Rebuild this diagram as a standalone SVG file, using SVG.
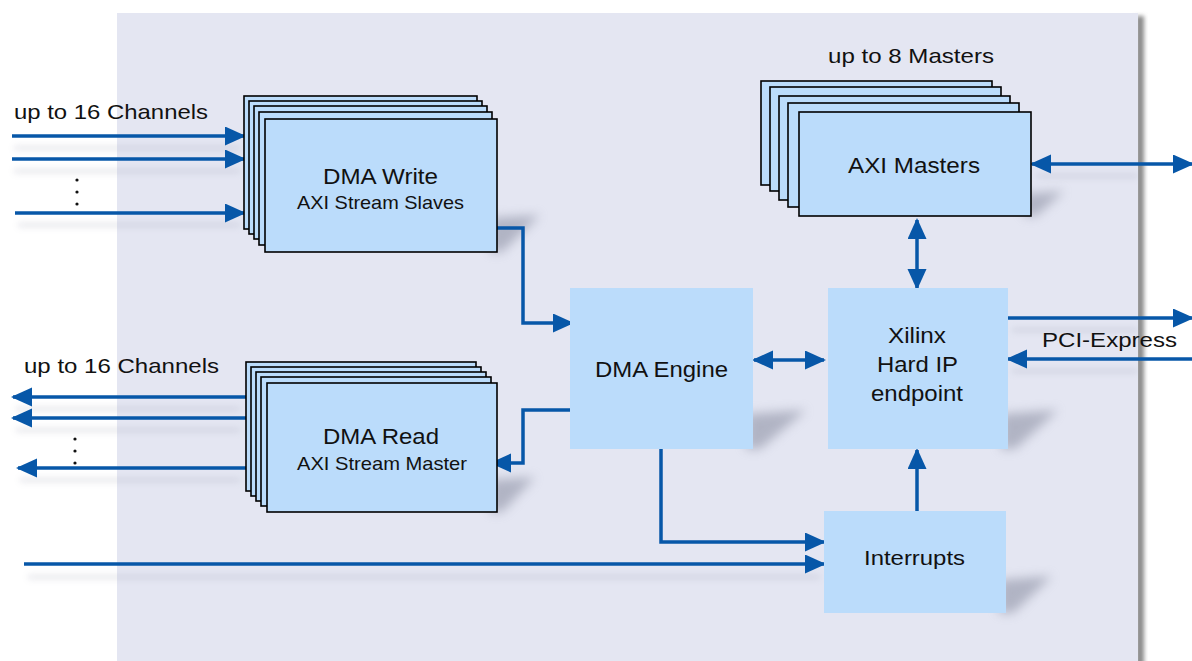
<svg xmlns="http://www.w3.org/2000/svg" width="1192" height="661" viewBox="0 0 1192 661">
<defs>
<style>
.card{fill:#bbdcfb;stroke:#000;stroke-width:1.6}
.box{fill:#bbdcfb}
.con{fill:none;stroke:#0757a8;stroke-width:3.5}
.sh{fill:#7e8296;opacity:0.5;filter:url(#blur)}
.lsh{fill:none;stroke:#9a9db0;stroke-width:5;opacity:0.22;filter:url(#blur2)}
text{font-family:"Liberation Sans",Arial,sans-serif;fill:#111;}
.lbl{font-size:21px}
.big{font-size:22px}
.sub{font-size:19px}
</style>
<filter id="blur" x="-100%" y="-100%" width="300%" height="300%"><feGaussianBlur stdDeviation="5.5"/></filter>
<filter id="blur2" x="-10%" y="-200%" width="120%" height="500%"><feGaussianBlur stdDeviation="3"/></filter>
<filter id="pblur" x="-50%" y="-10%" width="200%" height="120%"><feGaussianBlur stdDeviation="2"/></filter>
<marker id="ah" markerUnits="userSpaceOnUse" markerWidth="22" markerHeight="20" refX="19" refY="9.5" orient="auto-start-reverse" viewBox="0 0 22 20">
<path d="M0,0 L21,9.5 L0,19 z" fill="#0757a8"/>
</marker>
</defs>

<!-- background panel -->
<rect x="1136" y="16" width="8" height="660" fill="#8a8a8a" filter="url(#pblur)"/>
<rect x="117" y="13" width="1021" height="660" fill="#e4e6f2"/>

<!-- shadows -->
<g id="shadows">
<polygon class="sh" points="490,218 540,215 502,252 490,252"/>
<polygon class="sh" points="490,480 535,477 502,512 490,512"/>
<polygon class="sh" points="1024,194 1064,191 1036,216 1024,216"/>
<polygon class="sh" points="746,414 806,410 760,449 746,449"/>
<polygon class="sh" points="1001,414 1058,410 1015,449 1001,449"/>
<polygon class="sh" points="999,580 1052,576 1013,613 999,613"/>
<path class="lsh" d="M14,148 H240 M14,171 H240 M18,225 H240 M16,409 H240 M16,430 H240 M20,480 H240 M28,577 H820 M1036,176 H1138 M1012,330 H1138 M1012,371 H1138"/>
</g>

<g id="connectors">
<path class="con" d="M12,136 H244" marker-end="url(#ah)"/>
<path class="con" d="M12,159 H244" marker-end="url(#ah)"/>
<path class="con" d="M15,213 H244" marker-end="url(#ah)"/>
<path class="con" d="M246,397 H13" marker-end="url(#ah)"/>
<path class="con" d="M246,418 H13" marker-end="url(#ah)"/>
<path class="con" d="M246,468 H18" marker-end="url(#ah)"/>
<path class="con" d="M497,228 H523 V323 H572" marker-end="url(#ah)"/>
<path class="con" d="M570,410 H523 V463 H492" marker-end="url(#ah)"/>
<path class="con" d="M754,360 H824" marker-start="url(#ah)" marker-end="url(#ah)"/>
<path class="con" d="M917,220 V288" marker-start="url(#ah)" marker-end="url(#ah)"/>
<path class="con" d="M1032,164 H1192" marker-start="url(#ah)" marker-end="url(#ah)"/>
<path class="con" d="M1008,318 H1192" marker-end="url(#ah)"/>
<path class="con" d="M1192,359 H1008" marker-end="url(#ah)"/>
<path class="con" d="M661,449 V542 H824" marker-end="url(#ah)"/>
<path class="con" d="M24,564 H824" marker-end="url(#ah)"/>
<path class="con" d="M917,511 V450" marker-end="url(#ah)"/>
</g>

<!-- dots -->
<g id="dots" fill="#111">
<circle cx="77" cy="180" r="1.6"/><circle cx="77" cy="192" r="1.6"/><circle cx="77" cy="204" r="1.6"/>
<circle cx="75" cy="439" r="1.6"/><circle cx="75" cy="451" r="1.6"/><circle cx="75" cy="463" r="1.6"/>
</g>

<text class="lbl" x="14" y="119" textLength="194" lengthAdjust="spacingAndGlyphs">up to 16 Channels</text>
<text class="lbl" x="24" y="373" textLength="195" lengthAdjust="spacingAndGlyphs">up to 16 Channels</text>
<text class="lbl" x="828" y="63" textLength="166" lengthAdjust="spacingAndGlyphs">up to 8 Masters</text>
<text class="lbl" x="1042" y="347" textLength="135" lengthAdjust="spacingAndGlyphs">PCI-Express</text>

<g id="dma-write">
<rect class="card" x="244" y="96" width="233" height="133"/>
<rect class="card" x="249" y="101" width="233" height="133"/>
<rect class="card" x="254" y="106" width="233" height="133"/>
<rect class="card" x="259" y="112" width="233" height="133"/>
<rect class="card" x="265" y="119" width="232" height="133"/>
<text class="big" x="323" y="184" textLength="115" lengthAdjust="spacingAndGlyphs">DMA Write</text>
<text class="sub" x="297" y="209" textLength="167" lengthAdjust="spacingAndGlyphs">AXI Stream Slaves</text>
</g>

<g id="dma-read">
<rect class="card" x="246" y="362" width="230" height="129"/>
<rect class="card" x="251" y="367" width="230" height="129"/>
<rect class="card" x="256" y="372" width="230" height="129"/>
<rect class="card" x="261" y="377" width="230" height="129"/>
<rect class="card" x="267" y="383" width="230" height="129"/>
<text class="big" x="323" y="444" textLength="116" lengthAdjust="spacingAndGlyphs">DMA Read</text>
<text class="sub" x="297" y="470" textLength="170" lengthAdjust="spacingAndGlyphs">AXI Stream Master</text>
</g>

<g id="axi-masters">
<rect class="card" x="761" y="81" width="231" height="104"/>
<rect class="card" x="770" y="87" width="231" height="104"/>
<rect class="card" x="779" y="96" width="231" height="104"/>
<rect class="card" x="788" y="103" width="231" height="104"/>
<rect class="card" x="799" y="112" width="232" height="104"/>
<text class="big" x="848" y="173" textLength="132" lengthAdjust="spacingAndGlyphs">AXI Masters</text>
</g>

<g id="dma-engine">
<rect class="box" x="570" y="288" width="183" height="161"/>
<text class="big" x="595" y="377" textLength="133" lengthAdjust="spacingAndGlyphs">DMA Engine</text>
</g>

<g id="xilinx">
<rect class="box" x="828" y="288" width="180" height="161"/>
<text class="big" x="888" y="343" textLength="58" lengthAdjust="spacingAndGlyphs">Xilinx</text>
<text class="big" x="877" y="372" textLength="81" lengthAdjust="spacingAndGlyphs">Hard IP</text>
<text class="big" x="871" y="401" textLength="92" lengthAdjust="spacingAndGlyphs">endpoint</text>
</g>

<g id="interrupts">
<rect class="box" x="824" y="511" width="182" height="102"/>
<text class="lbl" x="864" y="565" textLength="101" lengthAdjust="spacingAndGlyphs">Interrupts</text>
</g>
</svg>
